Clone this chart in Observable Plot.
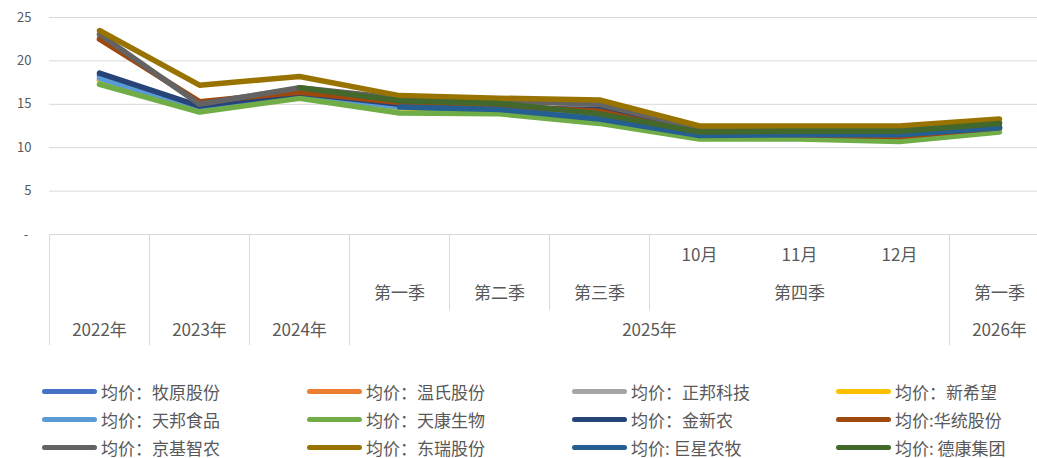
<!DOCTYPE html>
<html>
<head>
<meta charset="utf-8">
<script src="https://cdn.jsdelivr.net/npm/d3@7"></script>
<script src="https://cdn.jsdelivr.net/npm/@observablehq/plot@0.6"></script>
<style>
  html, body { margin: 0; padding: 0; background: #fff; }
  body { width: 1037px; height: 458px; overflow: hidden; font-family: "Noto Sans CJK SC", "Noto Sans", sans-serif; }
  #chart svg { display: block; max-width: none !important; }
  #legend { display: grid; grid-template-columns: 265px 265px 264px 200px; padding-left: 42px; padding-top: 17px; }
  .item { height: 28px; display: flex; align-items: center; font-size: 17px; color: #595959; white-space: nowrap; }
  .sw { display: inline-block; width: 55px; height: 5px; border-radius: 3px; margin-right: 4px; }
</style>
</head>
<body>
<div id="chart"></div>
<div id="legend"></div>
<script>
// categories (index positions along x)
const categories = ["2022年", "2023年", "2024年", "2025年第一季", "2025年第二季", "2025年第三季", "2025年10月", "2025年11月", "2025年12月", "2026年第一季"];
// multi-level tick labels: [label, first index, last index]
const monthGroups = [["10月", 6, 6], ["11月", 7, 7], ["12月", 8, 8]];
const quarterGroups = [["第一季", 3, 3], ["第二季", 4, 4], ["第三季", 5, 5], ["第四季", 6, 8], ["第一季", 9, 9]];
const yearGroups = [["2022年", 0, 0], ["2023年", 1, 1], ["2024年", 2, 2], ["2025年", 3, 8], ["2026年", 9, 9]];
const yTicks = [0, 5, 10, 15, 20, 25];

const seriesNames = ["均价：牧原股份", "均价：温氏股份", "均价：正邦科技", "均价：新希望", "均价：天邦食品", "均价：天康生物", "均价：金新农", "均价:华统股份", "均价：京基智农", "均价：东瑞股份", "均价: 巨星农牧", "均价: 德康集团"];
const seriesColors = ["#4472C4", "#ED7D31", "#A5A5A5", "#FFC000", "#5B9BD5", "#70AD47", "#264478", "#9E480E", "#636363", "#997300", "#255E91", "#43682B"];

const muyuan    = [18.3, 14.7, 16.1, 14.8, 14.4, 13.8, 11.5, 11.5, 11.5, 12.3];
const wens      = [17.8, 14.5, 16.1, 14.7, 14.3, 13.6, 11.4, 11.4, 11.3, 12.2];
const zhengbang = [22.8, 15.1, 16.8, 15.6, 15.3, 15.0, 12.1, 12.0, 12.0, 12.8];
const newhope   = [17.7, 14.4, 16.2, 14.6, 14.2, 13.5, 11.3, 11.3, 11.2, 12.1];
const tianbang  = [18.0, 14.5, 16.0, 14.7, 14.3, 13.6, 11.4, 11.4, 11.3, 12.2];
const tiankang  = [17.3, 14.1, 15.7, 14.0, 13.9, 12.8, 11.0, 11.0, 10.7, 11.8];
const jinxinnong= [18.6, 14.8, 16.3, 15.0, 14.6, 14.4, 11.6, 11.7, 11.6, 12.4];
const huatong   = [22.5, 15.3, 16.4, 15.2, 14.8, 14.2, 11.6, 11.5, 11.3, 12.3];
const jingji    = [23.1, 15.0, 16.9, 15.7, 15.4, 15.0, 12.2, 12.1, 12.1, 12.9];
const dongrui   = [23.5, 17.2, 18.2, 16.0, 15.7, 15.5, 12.5, 12.5, 12.5, 13.3];
const juxing    = [null, null, null, 14.7, 14.4, 13.3, 11.4, 11.5, 11.5, 12.3];
const dekang    = [null, null, 16.9, 15.4, 15.1, 13.9, 11.8, 11.9, 11.9, 12.8];
const seriesValues = [muyuan, wens, zhengbang, newhope, tianbang, tiankang, jinxinnong, huatong, jingji, dongrui, juxing, dekang];

const data = seriesNames.flatMap((name, s) =>
  seriesValues[s].map((v, i) => ({name, i, v, cat: categories[i]}))).filter(d => d.v != null);

// separators derived from group boundaries
const fullSeps = Array.from(new Set(yearGroups.flatMap(g => [g[1] - 0.5, g[2] + 0.5])));
const shortSeps = Array.from(new Set(quarterGroups.flatMap(g => [g[1] - 0.5, g[2] + 0.5]))).filter(x => !fullSeps.includes(x));

const grey = "#d9d9d9";
const txt = "#595959";
const font = "'Noto Sans CJK SC', 'Noto Sans', sans-serif";

const chart = Plot.plot({
  width: 1050,
  height: 360,
  marginLeft: 49,
  marginRight: 1,
  marginTop: 17,
  marginBottom: 126,
  style: {fontFamily: font, fontSize: "13px", color: txt, background: "#fff", maxWidth: "none"},
  x: {type: "linear", domain: [-0.5, categories.length - 0.5], axis: null},
  y: {domain: [0, 25], axis: null},
  color: {domain: seriesNames, range: seriesColors},
  marks: [
    Plot.gridY(yTicks, {stroke: grey, strokeOpacity: 1, strokeWidth: 1}),
    Plot.axisY(yTicks, {tickSize: 0, tickPadding: 18, fontSize: 13, color: txt, label: null,
      tickFormat: d => d === 0 ? "-\u2005" : String(d)}),
    Plot.ruleX(fullSeps, {x: d => d, y1: 0, y2: 0, insetBottom: -111, stroke: grey, strokeWidth: 1}),
    Plot.ruleX(shortSeps, {x: d => d, y1: 0, y2: 0, insetBottom: -76, stroke: grey, strokeWidth: 1}),
    Plot.text(monthGroups, {x: d => (d[1] + d[2]) / 2, y: 0, text: d => d[0], dy: 21, fontSize: 17, fill: txt}),
    Plot.text(quarterGroups, {x: d => (d[1] + d[2]) / 2, y: 0, text: d => d[0], dy: 59, fontSize: 17, fill: txt}),
    Plot.text(yearGroups, {x: d => (d[1] + d[2]) / 2, y: 0, text: d => d[0], dy: 96, fontSize: 17, fill: txt}),
    Plot.line(data, {x: "i", y: "v", z: "name", stroke: "name", strokeWidth: 5.5,
      strokeLinecap: "round", strokeLinejoin: "round"})
  ]
});
document.getElementById("chart").appendChild(chart);

const legend = document.getElementById("legend");
seriesNames.forEach((name, s) => {
  const item = document.createElement("div");
  item.className = "item";
  const sw = document.createElement("span");
  sw.className = "sw";
  sw.style.background = seriesColors[s];
  item.appendChild(sw);
  item.appendChild(document.createTextNode(name));
  legend.appendChild(item);
});
</script>
</body>
</html>
